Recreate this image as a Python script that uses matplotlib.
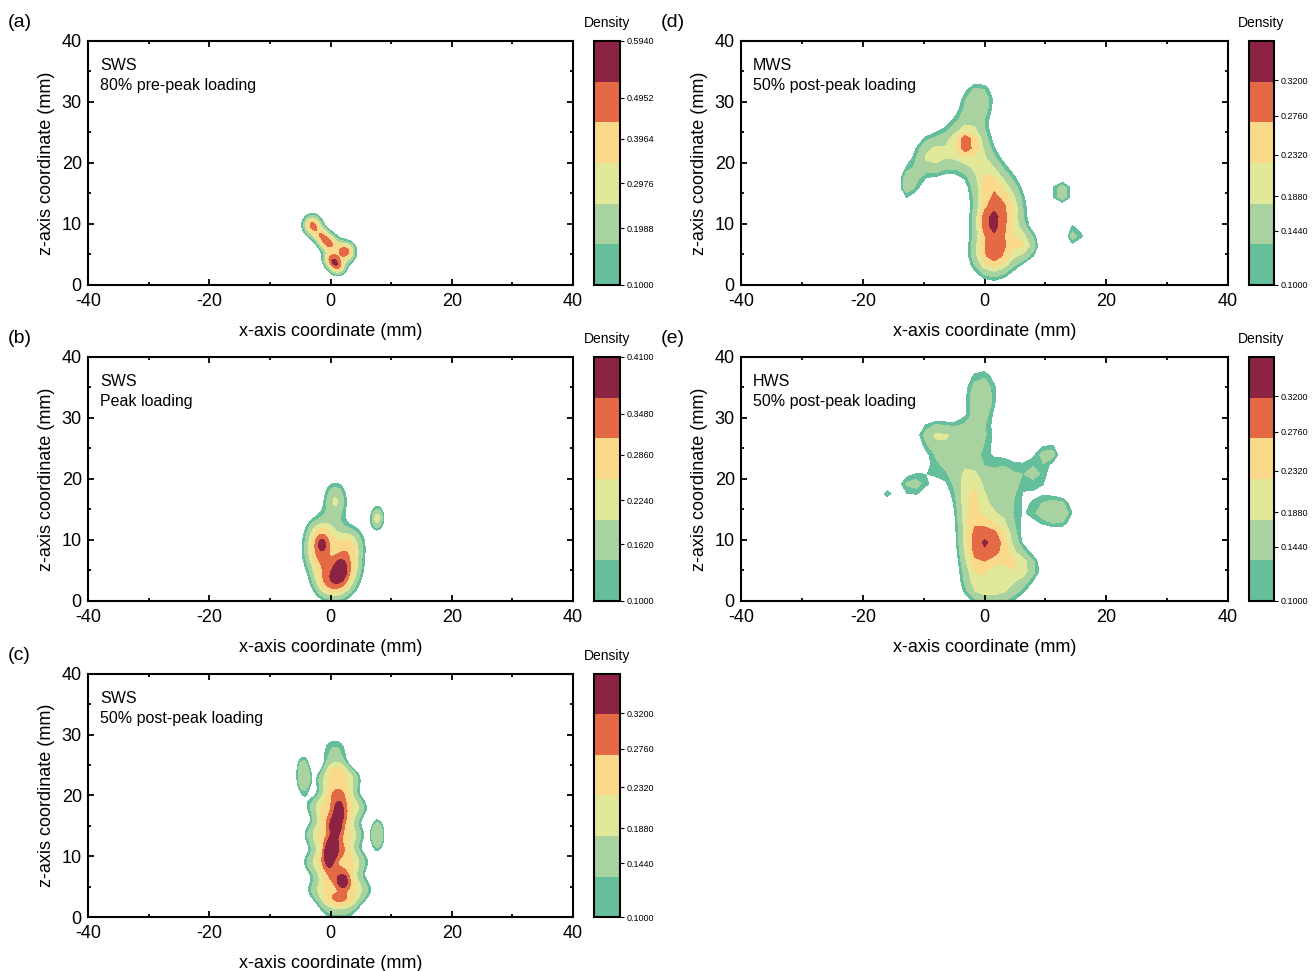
import numpy as np
import matplotlib.pyplot as plt

plt.rcParams['font.family'] = ['Liberation Sans', 'DejaVu Sans']
plt.rcParams['axes.unicode_minus'] = False
plt.rcParams['xtick.direction'] = 'in'
plt.rcParams['ytick.direction'] = 'in'

COLORS = ["#66bf9b", "#a8d29f", "#e2e899", "#fad98a", "#e36a45", "#8c2343"]

# density hot spots: centre (x, z) in mm, peak, spread x/z in mm

# ---- panel (a): SWS, 80% pre-peak loading ----
A_X = [-3.0, -1.6, -0.4, 2.6, 0.1, 1.2, 1.2]
A_Z = [9.8, 8.2, 6.9, 5.4, 4.2, 3.0, 6.0]
A_AMP = [0.46, 0.3, 0.42, 0.44, 0.4, 0.4, 0.15]
A_SX = [1.0, 0.9, 1.0, 1.0, 0.9, 0.9, 1.0]
A_SZ = [1.1, 0.9, 1.0, 1.1, 0.9, 0.9, 1.0]
A_LEVELS = [0.1, 0.161, 0.258, 0.337, 0.436, 0.535, 0.594]
A_TICKS = [0.1, 0.1988, 0.2976, 0.3964, 0.4952, 0.594]

# ---- panel (b): SWS, peak loading ----
B_X = [-1.6, -1.9, -0.9, 3.1, 2.7, 1.3, 0.8, -1.4, 1.6, 7.7]
B_Z = [11.0, 7.5, 3.5, 9.5, 5.5, 2.5, 16.5, 9.3, 5.3, 13.6]
B_AMP = [0.22, 0.22, 0.18, 0.21, 0.22, 0.18, 0.2, 0.07, 0.1, 0.22]
B_SX = [1.9, 1.9, 1.8, 1.9, 1.9, 2.0, 1.5, 0.6, 0.8, 0.85]
B_SZ = [2.2, 2.2, 2.2, 2.2, 2.2, 2.0, 2.4, 0.9, 1.4, 1.5]
B_LEVELS = [0.1, 0.137, 0.20, 0.25, 0.31, 0.373, 0.41]
B_TICKS = [0.1, 0.162, 0.224, 0.286, 0.348, 0.41]

# ---- panel (c): SWS, 50% post-peak loading ----
C_X = [1.5, 0.9, 0.6, 1.1, 1.3, 0.7, 1.4, 1.4, 0.8, 0.2, -0.3, 2.1, -4.5, 7.8]
C_Z = [4.5, 9.0, 13.5, 18.0, 22.5, 27.0, 1.0, 17.5, 14.5, 11.5, 9.5, 5.7, 23.4, 13.5]
C_AMP = [0.245, 0.255, 0.255, 0.255, 0.23, 0.13, 0.12, 0.08, 0.08, 0.08, 0.08, 0.08, 0.16, 0.16]
C_SX = [4.2, 4.2, 3.9, 3.9, 3.0, 2.0, 3.0, 0.9, 0.9, 0.9, 0.9, 0.9, 1.1, 1.0]
C_SZ = [2.2, 2.2, 2.2, 2.2, 2.2, 2.4, 2.0, 1.5, 1.5, 1.5, 1.5, 1.1, 3.0, 2.4]
CDE_LEVELS = [0.1, 0.126, 0.18, 0.223, 0.268, 0.319, 0.347]
CDE_TICKS = [0.1, 0.144, 0.188, 0.232, 0.276, 0.32]

# ---- panel (d): MWS, 50% post-peak loading ----
D_X = [1.0, 0.5, 0.6, 1.5, -3.0, -2.9, -1.0, -9.0, -12.5, 4.5, 7.0, 12.7, 14.9]
D_Z = [11.5, 17.5, 10.3, 4.5, 23.0, 23.3, 30.5, 21.0, 16.5, 12.0, 6.5, 15.2, 8.2]
D_AMP = [0.23, 0.07, 0.08, 0.18, 0.23, 0.09, 0.16, 0.18, 0.16, 0.15, 0.15, 0.17, 0.16]
D_SX = [2.4, 1.8, 1.2, 2.8, 2.8, 1.0, 2.2, 2.2, 1.3, 2.2, 1.5, 1.6, 1.2]
D_SZ = [5.5, 2.5, 1.5, 2.5, 3.5, 1.0, 2.5, 2.8, 2.2, 4.5, 1.8, 1.6, 1.7]

# ---- panel (e): HWS, 50% post-peak loading ----
E_X = [1.2, 6.0, -2.3, 3.0, -1.5, -0.5, -0.7, -2.5, -8.5, -12.0, -7.0, -16.2,
       10.8, 12.8, 8.5, 9.5, 2.0]
E_Z = [9.5, 5.5, 17.0, 18.5, 5.0, 34.0, 31.6, 27.0, 27.5, 19.0, 23.0, 17.4,
       24.5, 14.5, 21.0, 14.5, 1.5]
E_AMP = [0.26, 0.18, 0.22, 0.16, 0.13, 0.16, 0.04, 0.1, 0.12, 0.14, 0.12, 0.12,
         0.13, 0.13, 0.13, 0.12, 0.17]
E_SX = [3.0, 2.5, 2.0, 2.2, 2.0, 2.4, 1.0, 3.0, 2.3, 2.0, 2.5, 0.8,
        1.5, 1.8, 2.2, 2.2, 3.5]
E_SZ = [3.0, 2.0, 5.5, 4.5, 3.0, 3.8, 1.5, 2.0, 1.8, 1.8, 3.5, 0.8,
        1.3, 2.2, 2.5, 2.0, 2.0]


def density(gx, gz, kx, kz, amp, sx, sz, power):
    d = np.zeros_like(gx)
    for x0, z0, a, s1, s2 in zip(kx, kz, amp, sx, sz):
        r2 = ((gx - x0) / s1) ** 2 + ((gz - z0) / s2) ** 2
        d += a * np.exp(-0.5 * r2 ** (power / 2))
    return d


fine_x, fine_z = np.meshgrid(np.arange(-40, 40.01, 0.2), np.arange(0, 40.01, 0.2))
coarse_x, coarse_z = np.meshgrid(np.arange(-40, 40.01, 1.6), np.arange(0, 40.01, 1.6))

panels = [
    ("(a)", "SWS", "80% pre-peak loading", A_X, A_Z, A_AMP, A_SX, A_SZ, A_LEVELS, A_TICKS, True, 2,
     [0.0671, 0.7065, 0.3697, 0.2513], [0.4527, 0.7065, 0.0198, 0.2513]),
    ("(b)", "SWS", "Peak loading", B_X, B_Z, B_AMP, B_SX, B_SZ, B_LEVELS, B_TICKS, True, 2,
     [0.0671, 0.3811, 0.3697, 0.2513], [0.4527, 0.3811, 0.0198, 0.2513]),
    ("(c)", "SWS", "50% post-peak loading", C_X, C_Z, C_AMP, C_SX, C_SZ, CDE_LEVELS, CDE_TICKS, True, 3,
     [0.0671, 0.0556, 0.3697, 0.2503], [0.4527, 0.0556, 0.0198, 0.2503]),
    ("(d)", "MWS", "50% post-peak loading", D_X, D_Z, D_AMP, D_SX, D_SZ, CDE_LEVELS, CDE_TICKS, False, 2,
     [0.5648, 0.7065, 0.3712, 0.2513], [0.952, 0.7065, 0.019, 0.2513]),
    ("(e)", "HWS", "50% post-peak loading", E_X, E_Z, E_AMP, E_SX, E_SZ, CDE_LEVELS, CDE_TICKS, False, 2,
     [0.5648, 0.3811, 0.3712, 0.2513], [0.952, 0.3811, 0.019, 0.2513]),
]

fig = plt.figure(figsize=(13.12, 9.71), dpi=100)

for tag, name, stage, kx, kz, amp, sx, sz, levels, ticks, fine, power, ax_pos, cb_pos in panels:
    ax = fig.add_axes(ax_pos)
    cax = fig.add_axes(cb_pos)
    gx, gz = (fine_x, fine_z) if fine else (coarse_x, coarse_z)
    dens = density(gx, gz, kx, kz, amp, sx, sz, power)
    dens = np.minimum(dens, levels[-1] - 1e-6)   # top class holds everything above
    cs = ax.contourf(gx, gz, dens, levels=levels, colors=COLORS)

    ax.set_xlim(-40, 40)
    ax.set_ylim(0, 40)
    ax.set_xticks([-40, -20, 0, 20, 40])
    ax.set_xticks([-30, -10, 10, 30], minor=True)
    ax.set_yticks([0, 10, 20, 30, 40])
    ax.set_yticks([5, 15, 25, 35], minor=True)
    ax.tick_params(which='both', top=True, right=True, width=1.3, labelsize=13)
    ax.tick_params(axis='x', pad=6)
    ax.tick_params(axis='y', pad=4.5)
    ax.tick_params(which='major', length=4)
    ax.tick_params(which='minor', length=2.5)
    for sp in ax.spines.values():
        sp.set_linewidth(1.5)
    ax.set_xlabel("x-axis coordinate (mm)", fontsize=13, labelpad=9)
    ax.set_ylabel("z-axis coordinate (mm)", fontsize=13, labelpad=5)
    ax.text(0.025, 0.93, name + "\n" + stage, transform=ax.transAxes, fontsize=11.5,
            va='top', ha='left', linespacing=1.4)
    ax.text(-0.165, 1.075, tag, transform=ax.transAxes, fontsize=14, va='center', ha='left')

    cb = fig.colorbar(cs, cax=cax, ticks=ticks)
    cb.ax.set_yticklabels([f"{t:.4f}" for t in ticks])
    cb.ax.tick_params(labelsize=6.5, direction='out', length=3, width=0.8, pad=2)
    cb.outline.set_linewidth(1.5)
    cax.set_title("Density", fontsize=10, pad=10)

fig.savefig("out.png", dpi=100)
